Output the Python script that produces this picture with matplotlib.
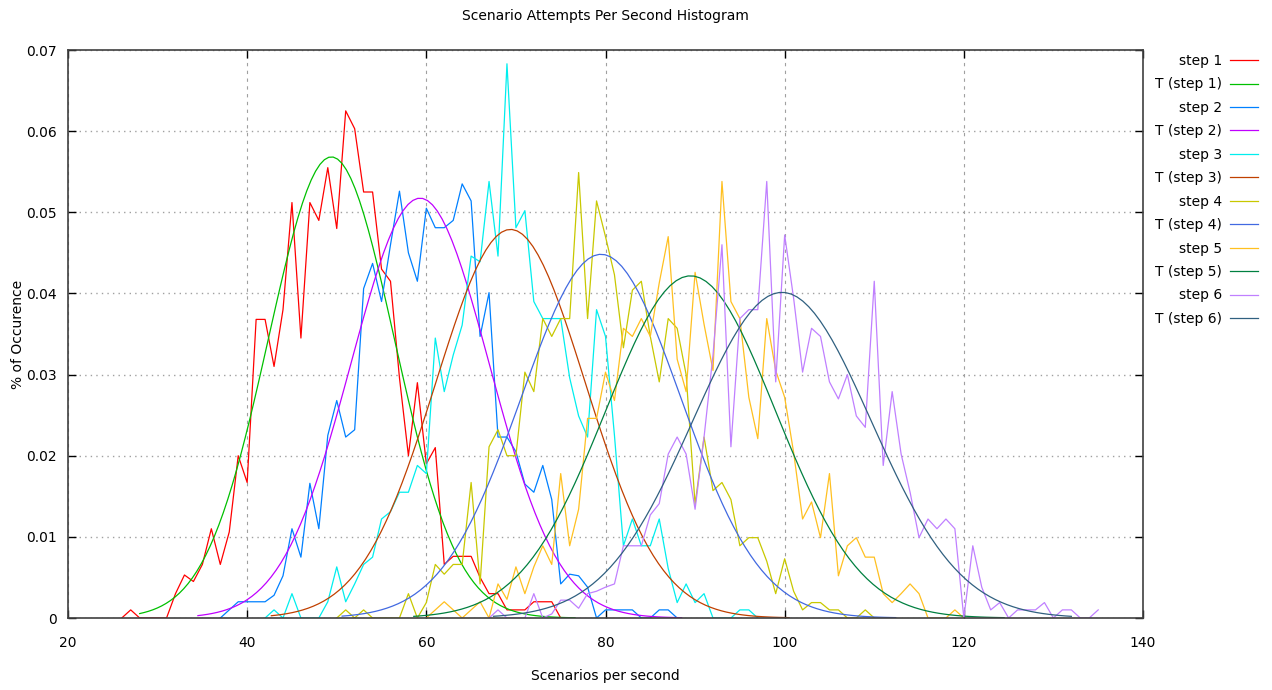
#! /usr/bin/env python

# gnuplot style histogram of scenario attempts per second, six steps
import numpy as np
import matplotlib.pyplot as plt

plt.rcParams['font.family'] = ['DejaVu Sans']

# measured histograms: first x value, then one value per integer x
step1_start = 26
step1 = [0, 0.001, 0, 0, 0, 0, 0.003, 0.0053, 0.0045, 0.0066,
         0.011, 0.0066, 0.0106, 0.020, 0.0167, 0.0368, 0.0368, 0.031, 0.038, 0.0512,
         0.0345, 0.0512, 0.049, 0.0555, 0.048, 0.0625, 0.0603, 0.0525, 0.0525, 0.043,
         0.0415, 0.0296, 0.020, 0.029, 0.019, 0.021, 0.0066, 0.0076, 0.0076, 0.0076,
         0.005, 0.003, 0.003, 0.001, 0.001, 0.001, 0.002, 0.002, 0.002, 0]

step2_start = 37
step2 = [0, 0.001, 0.002, 0.002, 0.002, 0.002, 0.0028, 0.0052, 0.011, 0.0075,
         0.0166, 0.011, 0.0225, 0.0268, 0.0223, 0.0232, 0.0406, 0.0437, 0.039, 0.046,
         0.0526, 0.045, 0.0415, 0.0505, 0.0481, 0.0481, 0.049, 0.0535, 0.0514, 0.0347,
         0.0401, 0.0223, 0.0223, 0.0205, 0.0165, 0.0155, 0.0188, 0.0146, 0.0042, 0.0054,
         0.0052, 0.0038, 0, 0.001, 0.001, 0.001, 0.001, 0, 0, 0.001,
         0.001, 0]

step3_start = 42
step3 = [0, 0.001, 0, 0.003, 0, 0, 0, 0.002, 0.0063, 0.002,
         0.0042, 0.0066, 0.0075, 0.0122, 0.0131, 0.0155, 0.0155, 0.0188, 0.0178, 0.0345,
         0.0279, 0.0324, 0.0361, 0.0446, 0.0439, 0.0538, 0.0446, 0.0683, 0.0481, 0.0502,
         0.039, 0.0369, 0.0369, 0.0369, 0.0296, 0.0249, 0.0223, 0.038, 0.0347, 0.0225,
         0.0089, 0.0122, 0.0089, 0.0089, 0.0122, 0.0061, 0.0019, 0.0042, 0.0019, 0.003,
         0, 0, 0, 0.001, 0.001, 0]

step4_start = 50
step4 = [0, 0.001, 0, 0.001, 0, 0, 0, 0, 0.003, 0,
         0.0019, 0.0066, 0.0054, 0.0066, 0.0066, 0.0167, 0.0042, 0.0211, 0.0232, 0.020,
         0.020, 0.0303, 0.0279, 0.0369, 0.0347, 0.0369, 0.0369, 0.0549, 0.0369, 0.0514,
         0.047, 0.0423, 0.0333, 0.0404, 0.0415, 0.0347, 0.0291, 0.0369, 0.0357, 0.030,
         0.014, 0.0223, 0.0157, 0.0167, 0.0146, 0.0089, 0.0099, 0.0099, 0.007, 0.003,
         0.0073, 0.0033, 0.001, 0.0019, 0.0019, 0.001, 0.001, 0, 0, 0.001,
         0]

step5_start = 60
step5 = [0, 0.001, 0.002, 0.001, 0, 0.001, 0.002, 0, 0.0042, 0.0023,
         0.0063, 0.003, 0.0063, 0.0089, 0.0066, 0.0178, 0.0089, 0.0134, 0.0246, 0.0246,
         0.0303, 0.0268, 0.0357, 0.0347, 0.0369, 0.0347, 0.0413, 0.047, 0.0319, 0.0279,
         0.0426, 0.0362, 0.0305, 0.0538, 0.039, 0.0369, 0.0272, 0.0221, 0.0369, 0.0305,
         0.0272, 0.0204, 0.0122, 0.0143, 0.0099, 0.0178, 0.0052, 0.0089, 0.0099, 0.0075,
         0.0075, 0.003, 0.0019, 0.003, 0.0042, 0.003, 0, 0, 0, 0.001,
         0]

step6_start = 67
step6 = [0, 0.001, 0, 0, 0, 0.003, 0, 0.0005, 0.0022, 0.0022,
         0.0012, 0.003, 0.0033, 0.0038, 0.0042, 0.0089, 0.0089, 0.0089, 0.0127, 0.0141,
         0.0202, 0.0223, 0.0202, 0.0134, 0.0223, 0.0324, 0.046, 0.0211, 0.0369, 0.038,
         0.038, 0.0538, 0.0291, 0.0472, 0.0394, 0.0303, 0.0357, 0.0347, 0.0291, 0.027,
         0.030, 0.0249, 0.0235, 0.0415, 0.0188, 0.0279, 0.0202, 0.0155, 0.0099, 0.0122,
         0.011, 0.0122, 0.011, 0, 0.0089, 0.0038, 0.001, 0.0019, 0, 0.001,
         0.001, 0.001, 0.0019, 0, 0.001, 0.001, 0, 0, 0.001]

# fitted normal curves (T): mean, std dev, and x range drawn
t_mean = [49.4, 59.3, 69.4, 79.5, 89.5, 99.7]
t_sigma = [7.02, 7.71, 8.33, 8.9, 9.46, 9.94]
t_lo = [28.0, 34.5, 42.7, 50.6, 58.6, 67.5]
t_hi = [76.6, 88.5, 100.5, 112.4, 124.5, 132.0]

labels = ['step 1', 'step 2', 'step 3', 'step 4', 'step 5', 'step 6']
step_colors = ['#ff0000', '#0080ff', '#00eeee', '#c8c800', '#ffc020', '#c080ff']
t_colors = ['#00c000', '#c000ff', '#c04000', '#4169e1', '#008040', '#306080']


if __name__ == "__main__":
    starts = [step1_start, step2_start, step3_start, step4_start, step5_start, step6_start]
    steps = [step1, step2, step3, step4, step5, step6]

    fig = plt.figure(figsize=(12.72, 6.9), dpi=100)
    ax = fig.add_axes([68/1272, 72/690, 1075/1272, 568/690])

    for i in range(6):
        x = np.arange(starts[i], starts[i] + len(steps[i]))
        ax.plot(x, steps[i], color=step_colors[i], lw=0.9, label=labels[i])
        tx = np.linspace(t_lo[i], t_hi[i], 100)
        ty = np.exp(-0.5*((tx - t_mean[i])/t_sigma[i])**2) / (t_sigma[i]*np.sqrt(2*np.pi))
        ax.plot(tx, ty, color=t_colors[i], lw=0.9, label='T (%s)' % labels[i])

    ax.set_xlim(20, 140)
    ax.set_ylim(0, 0.07)
    ax.set_xticks([20, 40, 60, 80, 100, 120, 140])
    ax.set_yticks([0, 0.01, 0.02, 0.03, 0.04, 0.05, 0.06, 0.07])
    ax.set_yticklabels(['0', '0.01', '0.02', '0.03', '0.04', '0.05', '0.06', '0.07'])
    ax.tick_params(direction='in', top=True, right=True, length=6, width=1,
                   labelsize=10)
    ax.tick_params(axis='x', pad=13)
    ax.tick_params(axis='y', pad=8)
    ax.xaxis.grid(True, color='#a0a0a0', linestyle=(0, (3, 4)), lw=0.8)
    ax.yaxis.grid(True, color='#a0a0a0', linestyle=(0, (1, 3)), lw=1.0)
    for s in ax.spines.values():
        s.set_color('#404040')
        s.set_linewidth(1.2)

    fig.text(605/1272, 1 - 16/690, 'Scenario Attempts Per Second Histogram',
             ha='center', va='center', fontsize=10)
    fig.text(605/1272, 1 - 676/690, 'Scenarios per second',
             ha='center', va='center', fontsize=10)
    fig.text(18/1272, 1 - 334/690, '% of Occurence', rotation=90,
             ha='center', va='center', fontsize=10)

    ax.legend(loc='upper right', bbox_to_anchor=(1258/1272, 1 - 54/690),
              bbox_transform=fig.transFigure, markerfirst=False, frameon=False,
              fontsize=10, handlelength=2.0, handletextpad=0.6,
              labelspacing=0.68, borderpad=0, borderaxespad=0)

    plt.savefig('out.png')
